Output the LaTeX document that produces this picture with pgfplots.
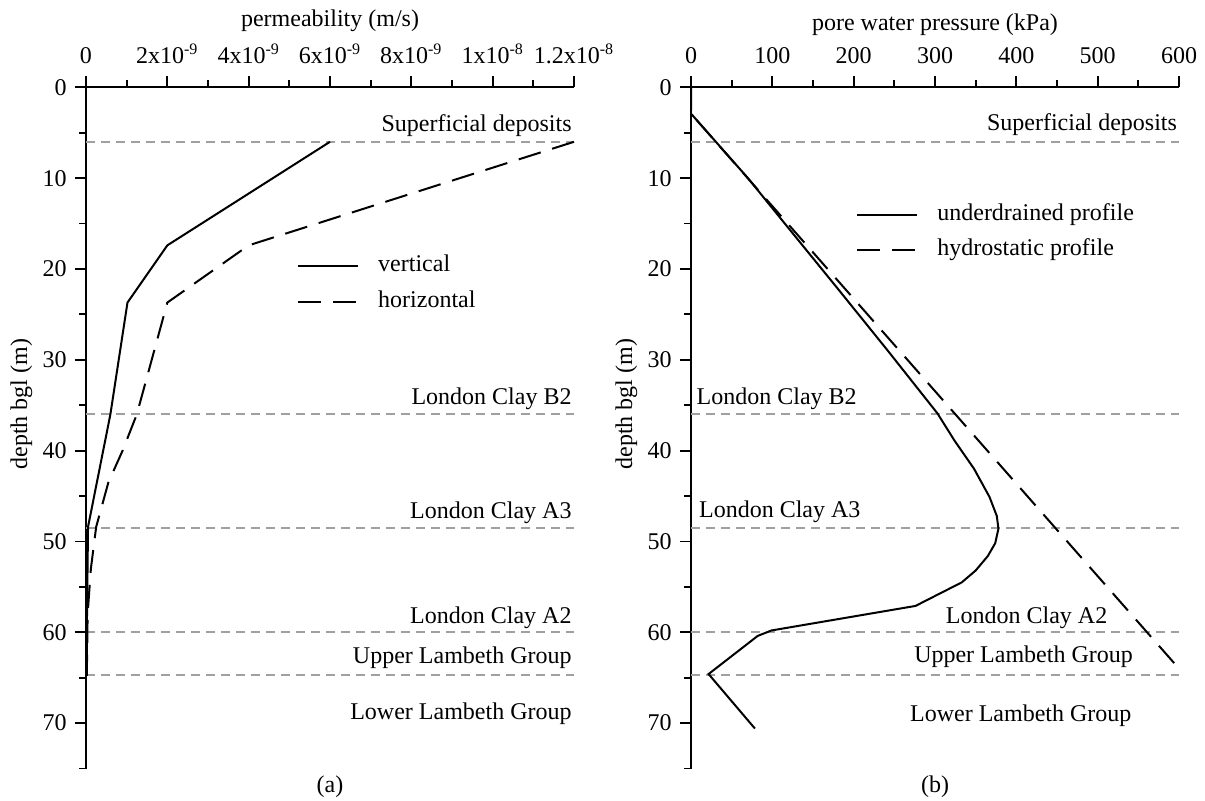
\documentclass[border=0pt]{standalone}
\usepackage{pgfplots}
\pgfplotsset{compat=1.18}
\usepackage{fontspec}
\setmainfont{Liberation Serif}
\definecolor{layergray}{RGB}{160,160,160}
\tikzset{lab/.style={inner sep=0pt}}
\pgfplotsset{
  myaxis/.style={
    scale only axis, width=244pt, height=340.6pt,
    axis x line=top, axis y line=left,
    axis line style={-, line width=1pt},
    y dir=reverse, ymin=0, ymax=75,
    ytick={0,10,...,70}, minor ytick={5,15,...,75},
    tick align=outside, major tick length=5.5pt, minor tick length=3.5pt,
    every tick/.style={black, line width=0.9pt},
    /pgf/number format/assume math mode=true,
    ylabel={depth bgl (m)},
    ylabel style={at={(ticklabel cs:0.535)}},
    ylabel shift=-3pt,
    xticklabel style={yshift=2pt},
    xlabel shift=-2pt,
    clip=false,
    legend cell align=left,
    legend image code/.code={\draw[##1] (0pt,0pt) -- (30pt,0pt);},
    legend style={draw=none, fill=none, inner sep=0pt, anchor=north west,
      nodes={inner sep=0pt, text height=8.5pt, text depth=3pt},
      column sep=9.5pt},
  },
  layer/.style={layergray, line width=0.8pt, dash pattern=on 4.5pt off 3pt, forget plot},
  dline/.style={black, line width=1pt, dash pattern=on 11.5pt off 6pt},
  sline/.style={black, line width=1pt},
}
\begin{document}
\fontsize{12}{14.4}\selectfont
\begin{tikzpicture}
\useasboundingbox (0,0) rectangle (602.5pt,400pt);
% ---------- (a) permeability
\begin{axis}[myaxis, at={(43pt,15.75pt)}, anchor=south west,
  xmin=0, xmax=12,
  xtick={0,2,4,6,8,10,12}, minor xtick={1,3,5,7,9,11},
  xticklabels={0,2x10\textsuperscript{-9},4x10\textsuperscript{-9},6x10\textsuperscript{-9},8x10\textsuperscript{-9},1x10\textsuperscript{-8},1.2x10\textsuperscript{-8}},
  xlabel={permeability (m/s)},
  legend style={at={(0.432,0.755)}, row sep=6.5pt},
]
\addplot[layer] coordinates {(0,6) (12,6)};
\addplot[layer] coordinates {(0,36) (12,36)};
\addplot[layer] coordinates {(0,48.5) (12,48.5)};
\addplot[layer] coordinates {(0,60) (12,60)};
\addplot[layer] coordinates {(0,64.7) (12,64.7)};
% values in 1e-9 m/s
\addplot[sline] coordinates {(6,6) (2,17.4) (1.02,23.7) (0.6,36) (0.05,48.4) (0.02,60) (0.02,64.8)};
\addlegendentry{vertical}
\addplot[dline] coordinates {(12,6) (4,17.4) (2,23.7) (1.25,36) (0.9,40) (0.55,43.5) (0.25,48.4) (0.12,53) (0.04,58) (0.02,64.8)};
\addlegendentry{horizontal}
\node[lab, anchor=base east] at (axis cs:11.95,4.9) {Superficial deposits};
\node[lab, anchor=base east] at (axis cs:11.95,34.9) {London Clay B2};
\node[lab, anchor=base east] at (axis cs:11.95,47.5) {London Clay A3};
\node[lab, anchor=base east] at (axis cs:11.95,59.0) {London Clay A2};
\node[lab, anchor=base east] at (axis cs:11.95,63.4) {Upper Lambeth Group};
\node[lab, anchor=base east] at (axis cs:11.95,69.6) {Lower Lambeth Group};
\end{axis}
% ---------- (b) pore water pressure
\begin{axis}[myaxis, at={(345.5pt,15.75pt)}, anchor=south west,
  xmin=0, xmax=600,
  xtick={0,100,...,600}, minor xtick={50,150,...,550},
  xlabel={pore water pressure (kPa)},
  legend style={at={(0.338,0.83)}, row sep=5.8pt},
]
\addplot[layer] coordinates {(0,6) (600,6)};
\addplot[layer] coordinates {(0,36) (600,36)};
\addplot[layer] coordinates {(0,48.5) (600,48.5)};
\addplot[layer] coordinates {(0,60) (600,60)};
\addplot[layer] coordinates {(0,64.7) (600,64.7)};
\addplot[sline] coordinates {(0,2.9) (70,10) (138,17.5) (178,21.9) (242,29) (303,35.9) (324,38.9) (348,42) (367,45.1) (376,47.2) (378,48.6) (374,50.2) (365,51.6) (350,53.2) (333,54.5) (276,57.1) (99,59.8) (82,60.4) (21.6,64.6) (78.6,70.6)};
\addlegendentry{underdrained profile}
\addplot[dline] coordinates {(0,0) (0,2.9) (600,64)};
\addlegendentry{hydrostatic profile}
\node[lab, anchor=base east] at (axis cs:598,4.8) {Superficial deposits};
\node[lab, anchor=base west] at (axis cs:6.5,34.9) {London Clay B2};
\node[lab, anchor=base west] at (axis cs:9.5,47.4) {London Clay A3};
\node[lab, anchor=base west] at (axis cs:313,59.0) {London Clay A2};
\node[lab, anchor=base west] at (axis cs:274,63.3) {Upper Lambeth Group};
\node[lab, anchor=base west] at (axis cs:269,69.8) {Lower Lambeth Group};
\end{axis}
\node at (165pt,6.5pt) {(a)};
\node at (467.5pt,6.5pt) {(b)};
\end{tikzpicture}
\end{document}
